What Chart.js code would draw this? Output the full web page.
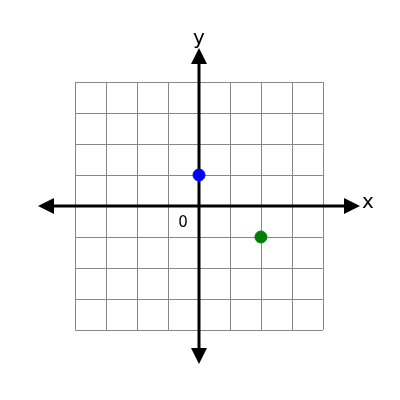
<!DOCTYPE html>
<html>
<head>
<meta charset="utf-8">
<script src="https://cdn.jsdelivr.net/npm/chart.js@4"></script>
<style>
  html, body { margin: 0; padding: 0; background: #fff; }
  #wrap { width: 400px; height: 400px; }
</style>
</head>
<body>
<div id="wrap"><canvas id="chart"></canvas></div>
<script>
const pointX = [0, 2];
const pointY = [1, -1];
const pointColors = ['#0000ff', '#008000'];
const gridValues = [-4, -3, -2, -1, 0, 1, 2, 3, 4];

const coordPlane = {
  id: 'coordPlane',
  beforeDatasetsDraw(chart) {
    const ctx = chart.ctx;
    const xs = chart.scales.x, ys = chart.scales.y;
    const x0 = xs.getPixelForValue(0), y0 = ys.getPixelForValue(0);
    const gl = xs.getPixelForValue(-4), gr = xs.getPixelForValue(4);
    const gt = ys.getPixelForValue(4), gb = ys.getPixelForValue(-4);
    ctx.save();
    ctx.strokeStyle = '#888';
    ctx.lineWidth = 1;
    gridValues.forEach(v => {
      const px = Math.round(xs.getPixelForValue(v)) + 0.5;
      const py = Math.round(ys.getPixelForValue(v)) + 0.5;
      ctx.beginPath(); ctx.moveTo(px, gt); ctx.lineTo(px, gb); ctx.stroke();
      ctx.beginPath(); ctx.moveTo(gl, py); ctx.lineTo(gr, py); ctx.stroke();
    });
    // axes
    const xl = xs.getPixelForValue(xs.min), xr = xs.getPixelForValue(xs.max);
    const yt = ys.getPixelForValue(ys.max), yb = ys.getPixelForValue(ys.min);
    ctx.strokeStyle = '#000';
    ctx.fillStyle = '#000';
    ctx.lineWidth = 3;
    ctx.beginPath(); ctx.moveTo(xl + 10, y0); ctx.lineTo(xr - 10, y0); ctx.stroke();
    ctx.beginPath(); ctx.moveTo(x0, yt + 10); ctx.lineTo(x0, yb - 10); ctx.stroke();
    const arrow = (tx, ty, dx, dy) => {
      const px = -dy, py = dx;
      ctx.beginPath();
      ctx.moveTo(tx, ty);
      ctx.lineTo(tx - dx * 16 + px * 8, ty - dy * 16 + py * 8);
      ctx.lineTo(tx - dx * 16 - px * 8, ty - dy * 16 - py * 8);
      ctx.closePath(); ctx.fill();
    };
    arrow(xr, y0, 1, 0); arrow(xl, y0, -1, 0);
    arrow(x0, yt, 0, -1); arrow(x0, yb, 0, 1);
    ctx.font = '20px "DejaVu Sans"';
    ctx.textAlign = 'left'; ctx.textBaseline = 'middle';
    ctx.fillText('x', xr + 2, y0 - 3);
    ctx.textAlign = 'center'; ctx.textBaseline = 'bottom';
    ctx.fillText('y', x0, yt + 1);
    ctx.font = '15px "DejaVu Sans"';
    ctx.textBaseline = 'middle';
    ctx.fillText('0', x0 - 16, y0 + 17);
    ctx.restore();
  }
};

new Chart(document.getElementById('chart'), {
  type: 'scatter',
  data: {
    datasets: [{
      data: pointX.map((x, i) => ({ x: x, y: pointY[i] })),
      backgroundColor: pointColors,
      borderColor: pointColors,
      pointRadius: 6
    }]
  },
  options: {
    responsive: true,
    maintainAspectRatio: false,
    animation: false,
    layout: { padding: { left: 38, right: 40, top: 48, bottom: 36 } },
    scales: {
      x: { display: false, min: -5.2, max: 5.2 },
      y: { display: false, min: -5.1, max: 5.1 }
    },
    plugins: { legend: { display: false }, tooltip: { enabled: false } }
  },
  plugins: [coordPlane]
});
</script>
</body>
</html>
